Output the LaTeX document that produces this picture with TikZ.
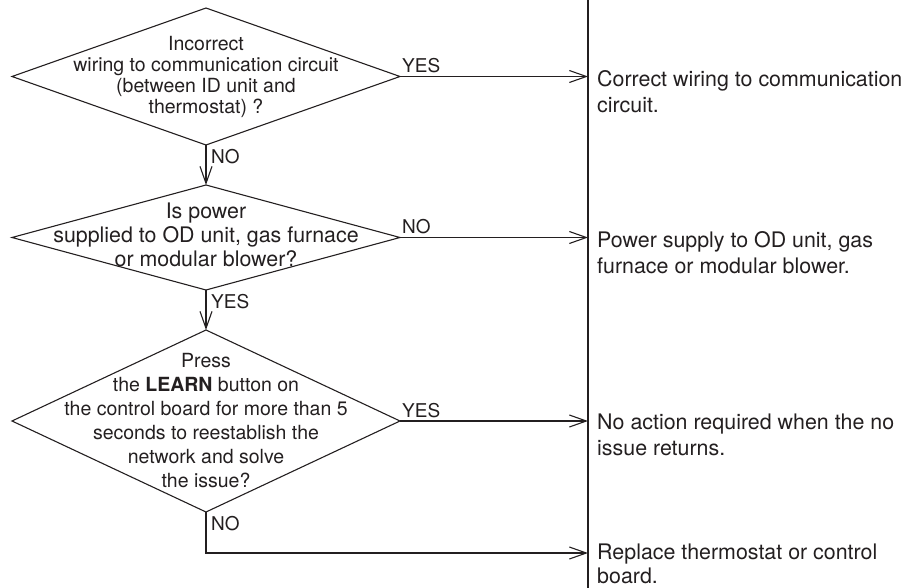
\documentclass[tikz,border=0pt]{standalone}
\usepackage{fontspec}
\setmainfont{TeX Gyre Heros}
\usetikzlibrary{shapes.geometric,arrows.meta}
\definecolor{ink}{HTML}{231F20}
\begin{document}
\begin{tikzpicture}[x=1pt,y=-1pt,
  dia/.style={diamond, draw=ink, line width=1.1pt, inner sep=0pt, outer sep=0pt, minimum width=388pt},
  qtext/.style={align=center, inner sep=0pt, text=ink},
  arr/.style={draw=ink, line width=1.1pt, -{Straight Barb[length=17pt,width=12pt]}},
  rule/.style={draw=ink, line width=1.1pt},
  lbl/.style={font=\fontsize{19}{21}\selectfont, inner sep=0pt, text=ink},
  res/.style={align=left, anchor=north west, inner sep=0pt, text=ink, font=\fontsize{21.4}{26}\selectfont}]
\useasboundingbox (0,0) rectangle (923,588);
% vertical divider
\coordinate (vt) at (588,0);
\coordinate (vb) at (588,588);
\draw[rule] (vt) -- (vb);
% decisions
\node[dia, minimum height=137pt] (d1) at (206,76.5) {};
\node[qtext, font=\fontsize{19.5}{21}\selectfont] (q1) at (d1.center) {Incorrect\\wiring to communication circuit\\(between ID unit and\\thermostat) ?};
\node[dia, minimum height=105pt] (d2) at (206,237.5) {};
\node[qtext, font=\fontsize{21.4}{24}\selectfont] (q2) at ([yshift=3pt]d2.center) {Is power\\supplied to OD unit, gas furnace\\or modular blower?};
\node[dia, minimum height=182pt] (d3) at (206,421) {};
\node[qtext, font=\fontsize{19.5}{24}\selectfont] (q3) at (d3.center) {Press\\the \textbf{LEARN} button on\\the control board for more than 5\\seconds to reestablish the\\network and solve\\the issue?};
% connectors
\coordinate (e4) at (588,553);
\draw[arr] (d1.east) -- (d1.east -| vt);
\draw[arr] (d2.east) -- (d2.east -| vt);
\draw[arr] (d3.east) -- (d3.east -| vt);
\draw[arr] (d1.south) -- (d2.north);
\draw[arr] (d2.south) -- (d3.north);
\draw[arr] (d3.south) |- (e4);
% labels
\node[lbl, anchor=base west] (l1) at ([xshift=2pt,yshift=4pt]d1.east) {YES};
\node[lbl, anchor=north west] (l2) at ([xshift=5pt,yshift=-4pt]d1.south) {NO};
\node[lbl, anchor=base west] (l3) at ([xshift=2pt,yshift=4pt]d2.east) {NO};
\node[lbl, anchor=north west] (l4) at ([xshift=5pt,yshift=-4pt]d2.south) {YES};
\node[lbl, anchor=base west] (l5) at ([xshift=2pt,yshift=4pt]d3.east) {YES};
\node[lbl, anchor=north west] (l6) at ([xshift=5pt,yshift=-4pt]d3.south) {NO};
% results
\node[res] (r1) at (597,70.6) {Correct wiring to communication\\circuit.};
\node[res] (r2) at (597,231.6) {Power supply to OD unit, gas\\furnace or modular blower.};
\node[res] (r3) at (597,413.6) {No action required when the no\\issue returns.};
\node[res, font=\fontsize{21.4}{24.5}\selectfont] (r4) at (597,543.6) {Replace thermostat or control\\board.};
\end{tikzpicture}
\end{document}
